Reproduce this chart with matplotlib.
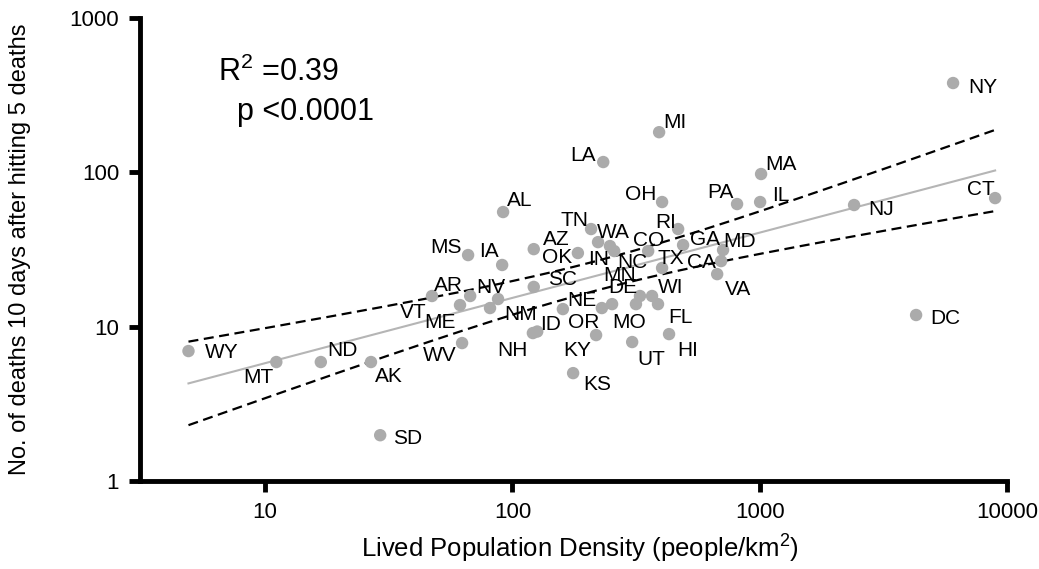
import numpy as np
import matplotlib
matplotlib.use("Agg")
import matplotlib.pyplot as plt
from matplotlib.ticker import FixedLocator, FixedFormatter, NullLocator

plt.rcParams['font.family'] = ['Liberation Sans', 'DejaVu Sans']

# ---- data ----
states = ["WY", "MT", "ND", "AK", "SD", "VT", "AR", "ME", "NV", "NM", "WV",
          "AL", "MS", "IA", "AZ", "OK", "SC", "NE", "NH", "ID", "KY", "KS",
          "TN", "WA", "IN", "NC", "CO", "RI", "GA", "TX", "MN", "WI", "FL",
          "DE", "MO", "OR", "UT", "HI", "LA", "MI", "OH", "PA", "IL", "MA",
          "MD", "CA", "VA", "NJ", "CT", "DC", "NY"]
density = [4.9, 11.1, 16.8, 26.8, 29.2, 47.3, 67.5, 61.4, 87.5, 81.2, 62.6,
           91.7, 66.2, 90.9, 122, 184, 122, 160, 121, 126, 218, 176,
           208, 222, 248, 258, 354, 468, 490, 403, 328, 367, 388,
           316, 253, 230, 305, 430, 233, 392, 403, 810, 1004, 1013,
           711, 698, 673, 2408, 8953, 4290, 6053]
deaths = [6.95, 5.9, 5.9, 5.9, 1.98, 15.8, 15.8, 13.8, 15.1, 13.2, 7.83,
          55.3, 29.1, 25.1, 31.8, 30.0, 18.1, 13.0, 9.09, 9.3, 8.82, 5.0,
          42.9, 35.3, 33.3, 30.9, 30.9, 42.9, 33.8, 24.0, 15.8, 15.8, 14.0,
          14.0, 14.0, 13.2, 7.95, 8.95, 116.6, 182, 64.2, 62.3, 64.2, 97.5,
          31.4, 26.6, 21.9, 61.4, 68.1, 11.9, 379]

x_ticks = [10, 100, 1000, 10000]
x_tick_labels = ["10", "100", "1000", "10000"]
y_ticks = [1, 10, 100, 1000]
y_tick_labels = ["1", "10", "100", "1000"]
r2_text = r"R$^\mathregular{2}$ =0.39"
p_text = "p <0.0001"
T_CRIT = 2.0096  # t(0.975, df=49)

# label offsets (pixels: right, down) relative to each dot
label_offsets = {
    "WY": (16, -1), "MT": (-33, 13), "ND": (6, -14), "AK": (4, 12), "SD": (13, 1),
    "VT": (-32, 14), "AR": (-36, -13), "ME": (-36, 15), "NV": (-22, -14),
    "NM": (14, 4), "WV": (-39, 10), "AL": (4, -14), "MS": (-38, -10),
    "IA": (-23, -15), "AZ": (9, -12), "OK": (-36, 2), "SC": (14, -9),
    "NE": (4, -11), "NH": (-36, 15), "ID": (3, -9), "KY": (-33, 13),
    "KS": (10, 9), "TN": (-31, -11), "WA": (-1, -12), "IN": (-22, 11),
    "NC": (3, 9), "CO": (-15, -13), "RI": (-23, -9), "GA": (7, -8),
    "TX": (-5, -11), "MN": (-37, -23), "WI": (6, -11), "FL": (10, 11),
    "DE": (-28, -19), "MO": (0, 16), "OR": (-34, 12), "UT": (5, 15),
    "HI": (8, 14), "LA": (-33, -9), "MI": (4, -12), "OH": (-37, -10),
    "PA": (-30, -14), "IL": (12, -9), "MA": (4, -12), "MD": (0, -10),
    "CA": (-34, -1), "VA": (8, 13), "NJ": (14, 2), "CT": (-28, -11),
    "DC": (14, 1), "NY": (15, 2),
}

W, H = 1039, 569
fig = plt.figure(figsize=(W / 100, H / 100), dpi=100)
ax = fig.add_axes([140 / W, 1 - 481 / H, (1007 - 140) / W, (481 - 18) / H])

ax.set_xscale('log')
ax.set_yscale('log')
ax.set_xlim(3.12, 10000)
ax.set_ylim(1, 1000)

# regression in log-log space with 95% CI of the fit
lx = np.log10(np.array(density))
ly = np.log10(np.array(deaths))
n = len(lx)
b, a = np.polyfit(lx, ly, 1)
resid = ly - (a + b * lx)
s = np.sqrt(np.sum(resid ** 2) / (n - 2))
xm = lx.mean()
sxx = np.sum((lx - xm) ** 2)
gx = np.linspace(lx.min(), lx.max(), 200)
gy = a + b * gx
half = T_CRIT * s * np.sqrt(1 / n + (gx - xm) ** 2 / sxx)

ax.plot(10 ** gx, 10 ** gy, color='#b5b5b5', lw=1.5, zorder=2)
ax.plot(10 ** gx, 10 ** (gy + half), color='black', lw=1.6, ls=(0, (4.5, 2.5)), zorder=2)
ax.plot(10 ** gx, 10 ** (gy - half), color='black', lw=1.6, ls=(0, (4.5, 2.5)), zorder=2)

ax.scatter(density, deaths, s=80, color='#ababab', edgecolors='none', zorder=3)

for st, xv, yv in zip(states, density, deaths):
    dx, dy = label_offsets[st]
    ax.annotate(st, (xv, yv), xytext=(dx, -dy - 7.5), textcoords='offset pixels',
                ha='left', va='baseline', fontsize=15, color='black', zorder=4)

# axes styling
for sp in ['top', 'right']:
    ax.spines[sp].set_visible(False)
for sp in ['left', 'bottom']:
    ax.spines[sp].set_linewidth(3.5)
    ax.spines[sp].set_capstyle('projecting')

ax.xaxis.set_major_locator(FixedLocator(x_ticks))
ax.xaxis.set_major_formatter(FixedFormatter(x_tick_labels))
ax.yaxis.set_major_locator(FixedLocator(y_ticks))
ax.yaxis.set_major_formatter(FixedFormatter(y_tick_labels))
ax.xaxis.set_minor_locator(NullLocator())
ax.yaxis.set_minor_locator(NullLocator())
ax.tick_params(axis='both', which='major', length=8, width=3.5, labelsize=16,
               direction='out', pad=7)
ax.patch.set_visible(False)

fig.text(20 / W, 1 - 249 / H, "No. of deaths 10 days after hitting 5 deaths",
         rotation=90, ha='center', va='center', fontsize=17)
fig.text(580 / W, 1 - 548 / H, r"Lived Population Density (people/km$^\mathregular{2}$)",
         ha='center', va='center', fontsize=18.5)

fig.text(218 / W, 1 - 72 / H, r2_text, ha='left', va='center', fontsize=22)
fig.text(237 / W, 1 - 112 / H, p_text, ha='left', va='center', fontsize=22)

fig.savefig('out.png', dpi=100)
